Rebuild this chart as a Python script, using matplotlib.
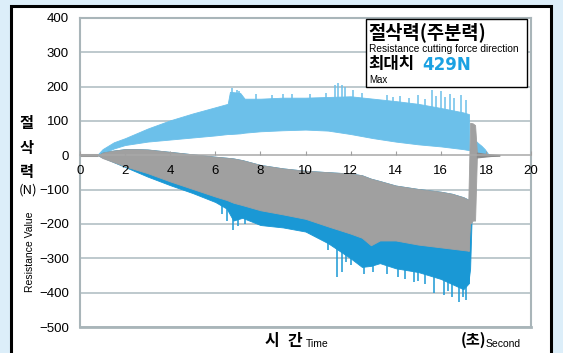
import numpy as np
import matplotlib
matplotlib.use("Agg")
import matplotlib.pyplot as plt
from matplotlib.patches import Rectangle

# ---------------- data ----------------
x_ticks = [0, 2, 4, 6, 8, 10, 12, 14, 16, 18, 20]
y_ticks = [400, 300, 200, 100, 0, -100, -200, -300, -400, -500]

# light-blue (positive) component envelope
t_lb = [0.75, 1.0, 1.5, 2, 3, 4, 5, 6, 6.55, 6.65, 7.1, 7.3, 8, 9, 10, 11, 12, 13, 14, 15, 16, 17, 17.25]
lb_upper = [0, 18, 38, 50, 78, 102, 122, 140, 150, 185, 182, 165, 165, 168, 168, 170, 172, 165, 158, 150, 138, 125, 120]
lb_lower = [0, 5, 20, 30, 40, 46, 52, 58, 62, 62, 64, 66, 70, 73, 75, 72, 62, 50, 40, 32, 26, 18, 15]

# gray and dark-blue (negative) components
t_neg = [0.8, 1, 1.5, 2, 2.5, 3, 4, 5, 6, 6.5, 6.8, 7.2, 8, 9, 10, 11, 12, 12.5, 12.9, 13.3, 14, 15, 16, 16.5, 17, 17.25]
g_upper = [0, 8, 14, 18, 18, 17, 10, 3, -4, -7, -9, -14, -28, -38, -45, -49, -53, -58, -68, -75, -88, -98, -106, -112, -122, -130]
g_lower = [0, -8, -20, -32, -42, -52, -76, -98, -120, -130, -138, -145, -160, -172, -185, -207, -228, -240, -262, -248, -248, -260, -268, -272, -276, -278]
b_lower = [0, -6, -20, -34, -48, -62, -87, -110, -136, -155, -190, -182, -203, -210, -222, -256, -300, -325, -322, -314, -329, -340, -360, -375, -390, -372]

# end-of-cut burst
t_burst = [17.22, 17.3, 17.42, 17.52, 17.6]
burst_hi = [-130, 95, 93, 88, 10]
burst_lo = [-278, -200, -190, -190, -5]
t_bburst = [17.22, 17.3, 17.36]
bburst_lo = [-372, -330, -200]
bburst_hi = [-278, -160, -190]

# tails after the cut
t_lb_tail = [17.55, 17.65, 17.8, 17.95, 18.1]
lb_tail_hi = [42, 36, 28, 18, 4]
lb_tail_lo = [0, 3, 6, 5, 2]
t_g_tail = [17.6, 17.9, 18.2, 18.6]
g_tail_hi = [8, 5, 3, 1]
g_tail_lo = [-6, -4, -2, -1]
t_pre = [0, 0.8]
pre_val = [0, 0]

# spikes
lb_spike_t = [6.75, 6.95, 7.05, 7.8, 8.5, 9.0, 9.4, 10.2, 10.9, 11.3, 11.45, 11.6, 11.75, 12.1, 12.5,
              13.6, 13.9, 14.2, 14.6, 15.0, 15.3, 15.6, 15.8, 16.0, 16.2, 16.4, 16.6, 16.9, 17.1]
lb_spike_v = [195, 190, 188, 180, 175, 178, 178, 178, 182, 205, 212, 204, 198, 190, 182,
              175, 170, 172, 168, 175, 165, 189, 172, 186, 170, 180, 168, 175, 160]
b_spike_t = [6.3, 6.5, 6.8, 7.0, 7.3, 11.0, 11.4, 11.6, 11.8, 12.0, 12.2, 12.6, 13.0, 13.6, 14.1, 14.4,
             14.8, 15.0, 15.3, 15.7, 16.15, 16.3, 16.5, 16.8, 17.0, 17.1]
b_spike_v = [-170, -190, -218, -205, -200, -276, -354, -340, -310, -320, -300, -345, -340, -345, -354, -360,
             -369, -366, -375, -402, -406, -395, -413, -428, -413, -420]

# ---------------- styling ----------------
LB = "#6cc0ea"
DB = "#1a98d5"
GR = "#a0a0a0"
GRID = "#b9c5c9"
FRAME = "#a9b5b9"
BG = "#dceef9"
LAT = "Liberation Sans"
KR = "Noto Sans CJK KR"

W, H = 563, 353
fig = plt.figure(figsize=(W / 100, H / 100), dpi=100)
fig.patch.set_facecolor(BG)


def fx(x):
    return x / W


def fy(y):
    return 1 - y / H


# white panel with black border
fig.add_artist(Rectangle((fx(11), -0.05), fx(551) - fx(11), fy(6) + 0.05,
                         transform=fig.transFigure, fc="white", ec="black", lw=2.2, zorder=0))

ax = fig.add_axes([fx(80), fy(327), fx(531) - fx(80), fy(18) - fy(327)])
ax.set_facecolor("none")
ax.set_xlim(0, 20)
ax.set_ylim(-500, 400)

# grid lines
for v in y_ticks:
    if v != 0:
        ax.axhline(v, color=GRID, lw=1.3, zorder=1)

# data
ax.fill_between(t_lb, lb_lower, lb_upper, color=LB, lw=0.6, ec=LB, zorder=2)
base_lb = np.interp(lb_spike_t, t_lb, lb_upper) - 10
ax.vlines(lb_spike_t, base_lb, lb_spike_v, color=LB, lw=1.1, zorder=2)

ax.fill_between(t_neg, b_lower, g_upper, color=DB, lw=0.6, ec=DB, zorder=3)
base_b = np.interp(b_spike_t, t_neg, b_lower) + 10
ax.vlines(b_spike_t, base_b, b_spike_v, color=DB, lw=1.1, zorder=3)
ax.fill_between(t_bburst, bburst_lo, bburst_hi, color=DB, lw=0.6, ec=DB, zorder=3)

ax.fill_between(t_neg, g_lower, g_upper, color=GR, lw=0.6, ec=GR, zorder=4)
ax.fill_between(t_burst, burst_lo, burst_hi, color=GR, lw=0.6, ec=GR, zorder=4)
ax.fill_between(t_lb_tail, lb_tail_lo, lb_tail_hi, color=LB, lw=0.6, ec=LB, zorder=3)
ax.fill_between(t_g_tail, g_tail_lo, g_tail_hi, color="#8a8a8a", lw=0.8, ec="#8a8a8a", zorder=4)
ax.plot(t_pre, pre_val, color="#9a9a9a", lw=2.2, zorder=4, solid_capstyle="butt")

# spines / axes
for s in ["left", "right", "top"]:
    ax.spines[s].set_color(FRAME)
    ax.spines[s].set_linewidth(1.5)
ax.spines["bottom"].set_position(("data", 0))
ax.spines["bottom"].set_color("#a8a8a8")
ax.spines["bottom"].set_linewidth(1.1)
ax.axhline(-500, color=FRAME, lw=2.0, zorder=5, clip_on=False)

ax.set_xticks(x_ticks)
ax.set_xticklabels([str(v) for v in x_ticks], fontfamily=LAT, fontsize=9.5)
ax.tick_params(axis="x", direction="in", length=3, width=0.8, color="#a0a0a0", pad=7)
ax.xaxis.set_zorder(8)
ax.spines["bottom"].set_zorder(8)
ax.set_yticks(y_ticks)
ax.set_yticklabels([f"{v}".replace("-", "\u2212") for v in y_ticks], fontfamily=LAT, fontsize=9.5)
ax.tick_params(axis="y", length=0, pad=8)

# y-axis title (stacked)
for ch, yy in zip(["절", "삭", "력"], [123, 148, 172]):
    fig.text(fx(27), fy(yy), ch, family=KR, fontweight="bold", fontsize=11, ha="center", va="center")
fig.text(fx(28), fy(190), "(N)", family=KR, fontsize=9.5, ha="center", va="center")
fig.text(fx(30), fy(252), "Resistance Value", family=LAT, fontsize=7.5, rotation=90, ha="center", va="center")

# x-axis title
fig.text(fx(272), fy(341), "시", family=KR, fontweight="bold", fontsize=11.5, ha="center", va="center")
fig.text(fx(295), fy(341), "간", family=KR, fontweight="bold", fontsize=11.5, ha="center", va="center")
fig.text(fx(306), fy(344), "Time", family=LAT, fontsize=7.5, ha="left", va="center")
fig.text(fx(473), fy(340), "(초)", family=KR, fontweight="bold", fontsize=11, ha="center", va="center")
fig.text(fx(486), fy(344), "Second", family=LAT, fontsize=7.5, ha="left", va="center")

# annotation box
fig.add_artist(Rectangle((fx(366), fy(87)), fx(527) - fx(366), fy(19) - fy(87),
                         transform=fig.transFigure, fc="white", ec="black", lw=1.0, zorder=10))
fig.text(fx(368), fy(32), "절삭력(주분력)", family=KR, fontweight="bold", fontsize=13.5, ha="left", va="center", zorder=11)
fig.text(fx(369), fy(48.5), "Resistance cutting force direction", family=LAT, fontsize=7.3, ha="left", va="center", zorder=11)
fig.text(fx(368), fy(64), "최대치", family=KR, fontweight="bold", fontsize=12, ha="left", va="center", zorder=11)
fig.text(fx(422), fy(64.5), "429N", family="DejaVu Sans", fontweight="bold", fontsize=12, color="#1ba1e2",
         ha="left", va="center", zorder=11)
fig.text(fx(369), fy(80), "Max", family=LAT, fontsize=7.0, ha="left", va="center", zorder=11)

fig.savefig("out.png", dpi=100, facecolor=BG)
